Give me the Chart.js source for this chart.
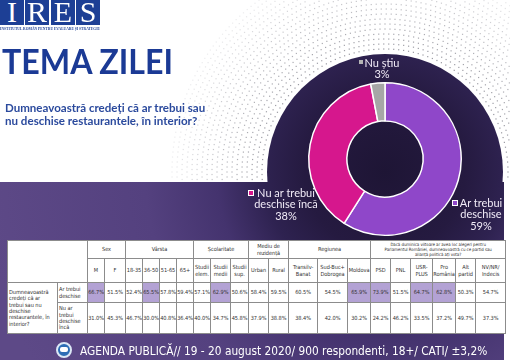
<!DOCTYPE html>
<html><head><meta charset="utf-8">
<script src="https://cdn.jsdelivr.net/npm/chart.js@4/dist/chart.umd.min.js"></script>
<style>
html,body{margin:0;padding:0;}
body{width:510px;height:360px;position:relative;overflow:hidden;background:#fff;font-family:Lato,sans-serif;}
#c{position:absolute;left:0;top:0;}
.abs{position:absolute;white-space:nowrap;}
.lb{position:absolute;top:-8px;height:28px;padding-top:5px;width:24px;background:#1d3f95;color:#fff;font:30px/30px "Liberation Serif",serif;text-align:center;overflow:hidden;}
.lbl{position:absolute;color:#f1ebf7;font:11px/11.4px Lato,sans-serif;text-align:center;white-space:nowrap;}
.sq{position:absolute;box-sizing:border-box;}
#tbl{position:absolute;left:7px;top:240px;border-collapse:collapse;table-layout:fixed;background:#fff;font-family:"DejaVu Sans Condensed","DejaVu Sans",sans-serif;font-size:5.6px;line-height:1.15;color:#333;}
#tbl td{border:1px solid #8c8c8c;padding:0;text-align:center;vertical-align:middle;white-space:pre;overflow:hidden;letter-spacing:-0.05px;}
#tbl td.q,#tbl td.a{text-align:left;padding-left:1px;}
#tbl td.hl{background:#b3a2d4;}
#tbl td.pq{font-size:4.4px;line-height:1.15;}
</style></head><body>
<canvas id="c" width="510" height="360"></canvas>

<div class="lb" style="left:0px">I</div>
<div class="lb" style="left:25px">R</div>
<div class="lb" style="left:51px">E</div>
<div class="lb" style="left:76px">S</div>
<div class="abs" id="sub" style="left:0;top:26px;font:bold 4.4px/6px 'Liberation Serif',serif;color:#1d3f95;">INSTITUTUL ROMÂN PENTRU EVALUARE ȘI STRATEGIE</div>

<div class="abs" id="title" style="left:2px;top:43px;font:bold 35px/35px Lato,sans-serif;color:#1b3a95;">TEMA ZILEI</div>
<div class="abs" id="q1" style="left:5px;top:101px;font:bold 12px/13px Lato,sans-serif;color:#2b4a9d;">Dumneavoastră credeți că ar trebui sau</div>
<div class="abs" id="q2" style="left:5px;top:114px;font:bold 12px/13px Lato,sans-serif;color:#2b4a9d;">nu deschise restaurantele, în interior?</div>

<div class="sq" style="left:359px;top:60px;width:4px;height:4px;background:#b5b5b5;"></div>
<div class="lbl" id="lNS" style="left:352px;top:57px;width:60px;"></div>
<div class="sq" style="left:248px;top:190px;width:6px;height:6px;background:#d6178d;border:1px solid #fff;"></div>
<div class="lbl" id="lNA" style="left:246px;top:187px;width:80px;"></div>
<div class="sq" style="left:452px;top:200px;width:6px;height:6px;background:#8f47c9;border:1px solid #fff;"></div>
<div class="lbl" id="lAT" style="left:441px;top:197px;width:80px;"></div>

<table id="tbl"></table>

<div class="abs" style="left:56px;top:342px;width:16px;height:16px;border-radius:50%;background:#2d6db5;box-sizing:border-box;border:2px solid #dce8f6;"></div>
<div class="abs" style="left:60px;top:347px;width:8px;height:5px;border-radius:2px;background:#fff;"></div>
<div class="abs" id="foot" style="left:80px;top:343px;font:12.5px/16px 'DejaVu Sans Condensed','DejaVu Sans',sans-serif;color:#fff;">AGENDA PUBLICĂ// 19 - 20 august 2020/ 900 respondenti, 18+/ CATI/ ±3,2%</div>

<script>
// ---- data ----
const sliceLabels = ['Ar trebui deschise', 'Nu ar trebui deschise încă', 'Nu știu'];
const sliceValues = [59, 38, 3];

const question = 'Dumneavoastră\ncredeți că ar\ntrebui sau nu\ndeschise\nrestaurantele, în\ninterior?';
const answerLabels = ['Ar trebui\ndeschise', 'Nu ar\ntrebui\ndeschise\nîncă'];
const groupNames = ['Sex', 'Vârsta', 'Școlaritate', 'Mediu de\nrezidență', 'Regiunea',
  'Dacă duminica viitoare ar avea loc alegeri pentru\nParlamentul României, dumneavoastră cu ce partid sau\nalianță politică ați vota?'];
const groupSizes = [2, 4, 3, 2, 3, 6];
const colLabels = ['M', 'F', '18-35', '36-50', '51-65', '65+', 'Studii\nelem.', 'Studii\nmedii', 'Studii\nsup.',
  'Urban', 'Rural', 'Transilv-\nBanat', 'Sud-Buc+\nDobrogea', 'Moldova', 'PSD', 'PNL', 'USR-\nPLUS', 'Pro\nRomânia', 'Alt\npartid', 'NV/NR/\nIndecis'];
const yesValues = [66.7, 51.5, 52.4, 65.5, 57.8, 59.4, 57.1, 62.9, 50.6, 58.4, 59.5, 60.5, 54.5, 65.9, 73.9, 51.5, 64.7, 62.8, 50.3, 54.7];
const noValues  = [31.0, 45.3, 46.7, 30.0, 40.8, 36.4, 40.0, 34.7, 45.8, 37.9, 38.8, 38.4, 42.0, 30.2, 24.2, 46.2, 33.5, 37.2, 49.7, 37.3];
const highlightCols = [0, 3, 7, 13, 14, 16, 17];

// ---- doughnut labels ----
document.getElementById('lAT').innerHTML = 'Ar trebui<br>deschise<br>' + sliceValues[0] + '%';
document.getElementById('lNA').innerHTML = 'Nu ar trebui<br>deschise încă<br>' + sliceValues[1] + '%';
document.getElementById('lNS').innerHTML = 'Nu știu<br>' + sliceValues[2] + '%';

// ---- table ----
(function(){
  const widths = [50, 30, 17, 21, 17, 17, 17, 17, 17, 20, 18, 20, 20, 29, 30, 23, 20, 20, 22, 23, 20, 30];
  let h = '<colgroup>' + widths.map(w => '<col style="width:' + w + 'px">').join('') + '</colgroup>';
  h += '<tr style="height:18px"><td colspan="2" rowspan="2"></td>';
  groupNames.forEach((g, i) => {
    h += '<td colspan="' + groupSizes[i] + '"' + (i === groupNames.length - 1 ? ' class="pq"' : '') + '>' + g + '</td>';
  });
  h += '</tr><tr style="height:24px">';
  colLabels.forEach(c => { h += '<td>' + c + '</td>'; });
  h += '</tr>';
  [yesValues, noValues].forEach((row, r) => {
    h += '<tr style="height:' + (r === 0 ? 20 : 31) + 'px">';
    if (r === 0) h += '<td class="q" rowspan="2">' + question + '</td>';
    h += '<td class="a">' + answerLabels[r] + '</td>';
    row.forEach((v, i) => {
      const hl = r === 0 && highlightCols.includes(i);
      h += '<td' + (hl ? ' class="hl"' : '') + '>' + v.toFixed(1) + '%</td>';
    });
    h += '</tr>';
  });
  const t = document.getElementById('tbl');
  t.style.width = widths.reduce((a, b) => a + b, 0) + 'px';
  t.innerHTML = h;
})();

function fit(id, w) {
  const el = document.getElementById(id);
  const s = el.scrollWidth;
  el.style.transformOrigin = '0 0';
  el.style.transform = 'scaleX(' + (w / s) + ')';
}
fit('sub', 100); fit('title', 171); fit('q1', 200); fit('q2', 192); fit('foot', 407);

// ---- background plugin ----
const bgPlugin = {
  id: 'bg',
  beforeDraw(chart) {
    const ctx = chart.ctx;
    const cx = 385, cy = 172, R = 118;
    ctx.save();
    ctx.fillStyle = '#fff';
    ctx.fillRect(0, 0, 510, 360);
    // dotted rings
    let ring = 0;
    for (let r = R + 5; r <= R + 95; r += 5, ring++) {
      const n = Math.round(2 * Math.PI * r / 5);
      const alpha = 0.85 - 0.7 * (r - R) / 95;
      ctx.fillStyle = 'rgba(130,130,140,' + alpha.toFixed(3) + ')';
      for (let k = 0; k < n; k++) {
        const t = (k + (ring % 2) * 0.5) / n * 2 * Math.PI;
        const x = cx + r * Math.cos(t), y = cy + r * Math.sin(t);
        if (y > 181 || x < 0 || x > 510 || y < 0) continue;
        ctx.fillRect(x - 0.6, y - 0.6, 1.2, 1.2);
      }
    }
    const g = ctx.createRadialGradient(cx, cy, 0, cx, cy, 400);
    g.addColorStop(0, '#1e1535');
    g.addColorStop(0.2, '#251a40');
    g.addColorStop(0.3, '#2e2250');
    g.addColorStop(0.42, '#44336e');
    g.addColorStop(0.6, '#54417f');
    g.addColorStop(1, '#5d4987');
    ctx.fillStyle = g;
    ctx.fillRect(0, 182, 504, 178);
    ctx.beginPath();
    ctx.arc(cx, cy, R, 0, 2 * Math.PI);
    ctx.fill();
    ctx.restore();
  }
};

new Chart(document.getElementById('c'), {
  type: 'doughnut',
  data: {
    labels: sliceLabels,
    datasets: [{
      data: sliceValues,
      backgroundColor: ['#8f47c9', '#d6178d', '#a6a6a6'],
      borderColor: '#ffffff',
      borderWidth: 1.5
    }]
  },
  options: {
    responsive: false,
    animation: false,
    devicePixelRatio: 1,
    cutout: '50%',
    events: [],
    layout: { padding: { left: 308, right: 48, top: 82, bottom: 124 } },
    plugins: { legend: { display: false }, tooltip: { enabled: false } }
  },
  plugins: [bgPlugin]
});
</script>
</body></html>
